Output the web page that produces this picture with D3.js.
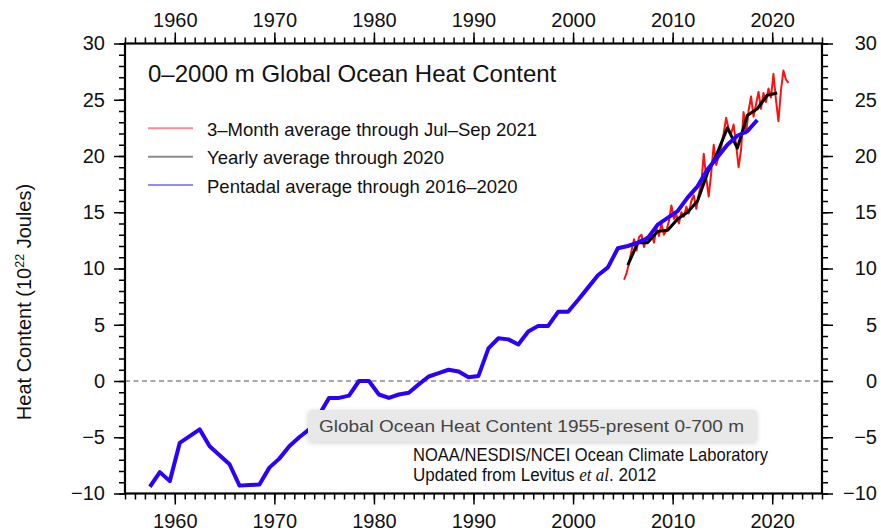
<!DOCTYPE html>
<html>
<head>
<meta charset="utf-8">
<script src="https://cdn.jsdelivr.net/npm/d3@7"></script>
<style>
  body { margin: 0; background: #fff; }
  svg { display: block; }
  text { font-family: "Liberation Sans", Arial, Helvetica, sans-serif; }
</style>
</head>
<body>
<svg id="chart" width="881" height="531"></svg>
<script>
// Ocean heat content anomaly, 0-2000 m, units of 10^22 J

// Pentadal (5-year running) averages, centred on mid-year, starting 1957.5
const pentadStart = 1957.5;
const pentadValues = [
  -9.4, -8.1, -8.9, -5.5, -4.9, -4.3, -5.8, -6.6, -7.4, -9.3,
  -9.25, -9.2, -7.7, -6.9, -5.8, -5.0, -4.3, -3.0, -1.5, -1.5,
  -1.3, 0.0, 0.0, -1.2, -1.5, -1.2, -1.05, -0.3, 0.4, 0.7,
  1.0, 0.85, 0.33, 0.45, 2.9, 3.8, 3.7, 3.25, 4.4, 4.9,
  4.9, 6.15, 6.15, 7.2, 8.3, 9.4, 10.1, 11.8, 12.0, 12.3,
  12.7, 13.9, 14.5, 15.1, 16.3, 17.3, 18.8, 19.9, 21.0, 21.8,
  22.2, 23.2
];

// Yearly averages 2005-2020, centred on mid-year
const yearlyStart = 2005.5;
const yearlyValues = [
  10.3, 12.3, 12.3, 13.3, 13.4, 14.4, 15.0, 16.0, 18.5, 20.3,
  22.5, 20.7, 23.6, 24.2, 25.4, 25.6
];

// 3-month averages, Jan-Mar 2005 through Jul-Sep 2021
const quarterStart = 2005.125;
const quarterValues = [
  9.0, 9.6, 10.5, 11.6,
  12.6, 11.6, 12.8, 13.0,
  11.9, 12.8, 12.4, 13.2,
  12.3, 13.6, 12.9, 14.0,
  13.0, 13.4, 14.2, 15.6,
  14.4, 14.8, 14.0, 15.0,
  14.6, 15.5, 14.9, 16.0,
  16.5, 15.3, 16.6, 17.5,
  20.2, 18.0, 16.4, 18.5,
  21.0, 19.2, 20.0, 20.8,
  22.0, 23.4, 22.4, 22.0,
  22.8, 21.0, 19.0, 20.6,
  23.9, 22.0, 24.0, 25.3,
  23.5, 24.6, 25.7, 24.2,
  25.6, 24.8, 26.0, 25.2,
  27.3, 25.0, 23.1, 25.8,
  27.6, 26.8, 26.5
];

const xMajorTicks = [1960, 1970, 1980, 1990, 2000, 2010, 2020];
const yMajorTicks = [-10, -5, 0, 5, 10, 15, 20, 25, 30];

const legendLabels = [
  "3\u2013Month average through Jul\u2013Sep 2021",
  "Yearly average through 2020",
  "Pentadal average through 2016\u20132020"
];

const svg = d3.select("#chart");
const plotLeft = 125, plotRight = 822, plotTop = 43.5, plotBottom = 493.5;

const x = d3.scaleLinear().domain([1955, 2025]).range([plotLeft, plotRight]);
const y = d3.scaleLinear().domain([-10, 30]).range([plotBottom, plotTop]);

const xMinor = d3.range(1955, 2026, 1);
const yMinor = d3.range(-10, 31, 1);

const fmtY = d => (d < 0 ? "\u2212" + Math.abs(d) : String(d));

// drop shadow for the hover box
const defs = svg.append("defs");
const f = defs.append("filter").attr("id", "shadow")
  .attr("x", "-10%").attr("y", "-40%").attr("width", "120%").attr("height", "180%");
f.append("feDropShadow").attr("dx", 0).attr("dy", 1).attr("stdDeviation", 2.5)
  .attr("flood-color", "#000").attr("flood-opacity", 0.18);

// zero reference line
svg.append("line")
  .attr("x1", plotLeft).attr("x2", plotRight)
  .attr("y1", y(0)).attr("y2", y(0))
  .attr("stroke", "#8c8c8c").attr("stroke-width", 1.6)
  .attr("stroke-dasharray", "5,3.5");

// axes: minor ticks first, then majors with labels
function styleAxis(g) {
  g.select(".domain").remove();
  g.selectAll(".tick line").attr("stroke", "#000").attr("stroke-width", 1.5);
  g.selectAll("text").attr("fill", "#111").style("font-size", "20px");
}

svg.append("g").attr("transform", `translate(0,${plotBottom})`)
  .call(d3.axisBottom(x).tickValues(xMinor).tickSize(6).tickFormat(""))
  .call(styleAxis);
svg.append("g").attr("transform", `translate(0,${plotBottom})`)
  .call(d3.axisBottom(x).tickValues(xMajorTicks).tickSize(11).tickFormat(d3.format("d")).tickPadding(9))
  .call(styleAxis);

svg.append("g").attr("transform", `translate(0,${plotTop})`)
  .call(d3.axisTop(x).tickValues(xMinor).tickSize(6).tickFormat(""))
  .call(styleAxis);
svg.append("g").attr("transform", `translate(0,${plotTop})`)
  .call(d3.axisTop(x).tickValues(xMajorTicks).tickSize(11).tickFormat(d3.format("d")).tickPadding(6))
  .call(styleAxis);

svg.append("g").attr("transform", `translate(${plotLeft},0)`)
  .call(d3.axisLeft(y).tickValues(yMinor).tickSize(6).tickFormat(""))
  .call(styleAxis);
svg.append("g").attr("transform", `translate(${plotLeft},0)`)
  .call(d3.axisLeft(y).tickValues(yMajorTicks).tickSize(11).tickFormat(fmtY).tickPadding(9))
  .call(styleAxis);

svg.append("g").attr("transform", `translate(${plotRight},0)`)
  .call(d3.axisRight(y).tickValues(yMinor).tickSize(6).tickFormat(""))
  .call(styleAxis);
svg.append("g").attr("transform", `translate(${plotRight},0)`)
  .call(d3.axisRight(y).tickValues(yMajorTicks).tickSize(11).tickFormat(fmtY))
  .call(styleAxis)
  .call(g => g.selectAll("text").attr("x", 55).attr("text-anchor", "end"));

// plot frame
svg.append("rect")
  .attr("x", plotLeft).attr("y", plotTop)
  .attr("width", plotRight - plotLeft).attr("height", plotBottom - plotTop)
  .attr("fill", "none").attr("stroke", "#000").attr("stroke-width", 2.2);

// series
const line = d3.line().x(d => x(d[0])).y(d => y(d[1]));
const quarterly = quarterValues.map((v, i) => [quarterStart + i * 0.25, v]);
const yearly = yearlyValues.map((v, i) => [yearlyStart + i, v]);
const pentadal = pentadValues.map((v, i) => [pentadStart + i, v]);

svg.append("path").datum(quarterly).attr("d", line)
  .attr("fill", "none").attr("stroke", "#ff1010").attr("stroke-width", 2)
  .attr("stroke-linejoin", "round");
svg.append("path").datum(yearly).attr("d", line)
  .attr("fill", "none").attr("stroke", "#000").attr("stroke-width", 3)
  .attr("stroke-linejoin", "round");
svg.append("path").datum(pentadal).attr("d", line)
  .attr("fill", "none").attr("stroke", "#2a00ff").attr("stroke-width", 4)
  .attr("stroke-linejoin", "round");

// title
svg.append("text").attr("x", 148).attr("y", 82)
  .style("font-size", "24px").attr("fill", "#111")
  .text("0\u20132000 m Global Ocean Heat Content");

// legend
const legendColors = ["#ff8c8c", "#8c8c8c", "#8c8cff"];
const lg = svg.append("g");
legendLabels.forEach((lab, i) => {
  const ly = 128.3 + i * 28.4;
  lg.append("line").attr("x1", 148).attr("x2", 193)
    .attr("y1", ly).attr("y2", ly)
    .attr("stroke", legendColors[i]).attr("stroke-width", 2);
  lg.append("text").attr("x", 207).attr("y", ly + 7.5)
    .style("font-size", "18.5px").attr("fill", "#111").text(lab);
});

// axis title
svg.append("text")
  .attr("transform", "translate(31,302) rotate(-90)")
  .attr("text-anchor", "middle")
  .style("font-size", "20px").attr("fill", "#111")
  .call(t => {
    t.append("tspan").text("Heat Content (10");
    t.append("tspan").attr("dy", -7).style("font-size", "12.5px").text("22");
    t.append("tspan").attr("dy", 7).text(" Joules)");
  });

// hover box
const hb = svg.append("g");
hb.append("rect").attr("x", 308).attr("y", 410).attr("width", 449).attr("height", 32)
  .attr("rx", 4).attr("fill", "#e8e8e8").attr("filter", "url(#shadow)");
hb.append("text").attr("x", 319).attr("y", 432)
  .style("font-size", "17px").attr("fill", "#444")
  .attr("textLength", 425).attr("lengthAdjust", "spacingAndGlyphs")
  .text("Global Ocean Heat Content 1955-present 0-700 m");

// credit lines, set in a slightly condensed face
svg.append("text").attr("transform", "translate(413,461) scale(0.92,1)")
  .style("font-size", "18px").attr("fill", "#111")
  .text("NOAA/NESDIS/NCEI Ocean Climate Laboratory");
const cr = svg.append("text").attr("transform", "translate(413,481) scale(0.945,1)")
  .style("font-size", "18px").attr("fill", "#111");
cr.append("tspan").text("Updated from Levitus ");
cr.append("tspan").style("font-family", "'Liberation Serif', 'Times New Roman', serif")
  .style("font-style", "italic").text("et al");
cr.append("tspan").text(". 2012");
</script>
</body>
</html>
